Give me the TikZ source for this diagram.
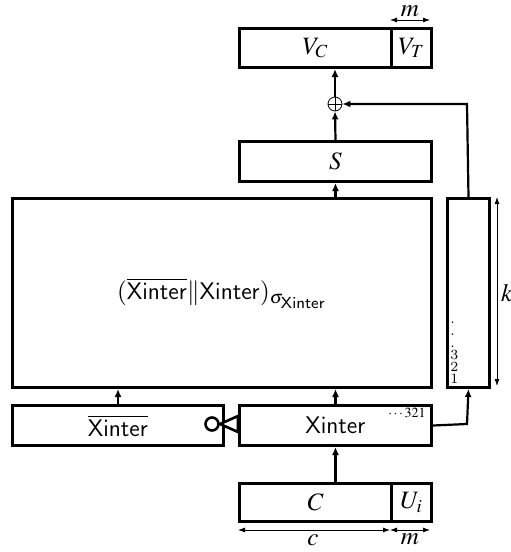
\documentclass[tikz,border=0pt]{standalone}
\usepackage{mathptmx}
\usetikzlibrary{arrows.meta}
\begin{document}
\begin{tikzpicture}[x=0.5pt,y=-0.5pt,
  box/.style={draw,line width=1.5pt,inner sep=0pt},
  conn/.style={line width=1.1pt,-{Latex[length=4pt,width=3.5pt]}},
  dim/.style={line width=0.4pt,{Latex[length=3.5pt,width=2.5pt]}-{Latex[length=3.5pt,width=2.5pt]}},
  lbl/.style={font=\fontsize{12.5}{14}\selectfont},
  num/.style={font=\fontsize{7}{6}\selectfont,inner sep=0pt}]
\useasboundingbox (0,0) rectangle (510,552);
% boxes
\node[box,minimum width=76pt,minimum height=19.5pt,anchor=north west] (vc) at (238,27) {};
\node[lbl] at (vc.center) {$V_C$};
\node[box,minimum width=20pt,minimum height=19.5pt,anchor=north west] (vt) at (390,27) {};
\node[lbl] at (vt.center) {$V_T$};
\node[box,minimum width=96pt,minimum height=20pt,anchor=north west] (s) at (238,140) {};
\node[lbl] at (s.center) {$S$};
\node[box,minimum width=209.5pt,minimum height=94.5pt,anchor=north west] (big) at (11,197) {};
\node[lbl] at (big.center) {$(\overline{\mathsf{Xinter}}\|\mathsf{Xinter})_{\sigma_{\mathsf{Xinter}}}$};
\node[box,minimum width=21pt,minimum height=94.5pt,anchor=north west] (side) at (446,197) {};
\node[box,minimum width=96pt,minimum height=20pt,anchor=north west] (x) at (238,404) {};
\node[lbl] at (x.center) {$\mathsf{Xinter}$};
\node[box,minimum width=105.5pt,minimum height=20pt,anchor=north west] (xb) at (11,404) {};
\node[lbl] at (xb.center) {$\overline{\mathsf{Xinter}}$};
\node[box,minimum width=76pt,minimum height=19pt,anchor=north west] (c) at (238,482) {};
\node[lbl] at (c.center) {$C$};
\node[box,minimum width=20pt,minimum height=19pt,anchor=north west] (u) at (390,482) {};
\node[lbl] at (u.center) {$U_i$};
% small labels
\node[num,anchor=north east,inner sep=1pt] (seq) at (428,406) {$\cdots 321$};
\node[num,align=left,anchor=south west] (stack) at (450,384) {.\\.\\.\\3\\2\\1};
% xor
\node[draw,circle,line width=0.4pt,minimum size=7pt,inner sep=0pt] (xor) at (335,104) {};
\draw[line width=0.4pt] (xor.north) -- (xor.south) (xor.west) -- (xor.east);
% connectors
\draw[conn] (c.north -| x.center) -- (x.south);
\draw[conn] (x.north) -- (big.south -| x.center);
\draw[conn] (xb.north) -- (big.south -| xb.center);
\draw[conn] (big.north -| s.center) -- (s.south);
\draw[conn] (s.north) -- (xor.south);
\draw[conn] (xor.north) -- (vc.south -| xor.center);
\coordinate (r1) at (467,424);
\draw[conn] (x.east) -- (r1) -- (side.south);
\coordinate (r2) at (467,104);
\draw[conn] (side.north) -- (r2) -- (xor.east);
% inverter
\coordinate (tip) at (220,424);
\draw[line width=1.3pt,fill=white] (238,416) -- (tip) -- (238,432) -- cycle;
\node[draw,circle,line width=1.3pt,minimum size=6.5pt,inner sep=0pt] (inv) at (212,424) {};
% dimensions
\coordinate (ma) at (390,20); \coordinate (mb) at (430,20);
\draw[dim] (ma) -- (mb);
\node[lbl,anchor=base,inner sep=0pt] at (410,16) {$m$};
\coordinate (ka) at (497,197); \coordinate (kb) at (497,386);
\draw[dim] (ka) -- (kb);
\node[lbl] at (507,293) {$k$};
\coordinate (ca) at (238,530); \coordinate (cb) at (390,530);
\draw[dim] (ca) -- (cb);
\node[lbl] at (313,540) {$c$};
\coordinate (mc) at (390,530); \coordinate (md) at (430,530);
\draw[dim] (mc) -- (md);
\node[lbl] at (410,539) {$m$};
\end{tikzpicture}
\end{document}
